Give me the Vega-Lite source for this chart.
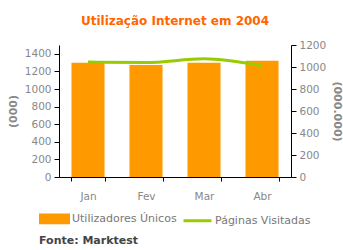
{
  "$schema": "https://vega.github.io/schema/vega-lite/v6.json",
  "width": 232,
  "height": 132,
  "padding": {"left": 7, "top": 15, "right": 4, "bottom": 2},
  "title": {"text": "Utilização Internet em 2004", "color": "#FF6600", "fontSize": 12, "font": "DejaVu Sans", "fontWeight": "bold", "offset": 12},
  "config": {
    "view": {"stroke": null},
    "font": "DejaVu Sans",
    "axis": {"labelColor": "#888888", "labelFontSize": 10.5, "titleColor": "#888888", "titleFontSize": 11, "titleFontWeight": "bold", "domainColor": "#000000", "tickColor": "#000000", "grid": false, "labelFont": "DejaVu Sans", "titleFont": "DejaVu Sans"},
    "legend": {
      "orient": "none", "legendX": -20, "legendY": 158, "direction": "horizontal",
      "titleOrient": "bottom", "titleFontSize": 11, "titleColor": "#444444", "titleFontWeight": "bold", "titlePadding": 6, "titleFont": "DejaVu Sans",
      "labelFontSize": 11, "labelColor": "#777777", "labelFont": "DejaVu Sans", "labelOffset": 2, "columnPadding": 0,
      "symbolSize": 784
    }
  },
  "data": {"values": [
    {"mes": "Jan", "utilizadores": 1297, "paginas": 1045},
    {"mes": "Fev", "utilizadores": 1274, "paginas": 1040},
    {"mes": "Mar", "utilizadores": 1297, "paginas": 1075},
    {"mes": "Abr", "utilizadores": 1320, "paginas": 1012}
  ]},
  "encoding": {
    "x": {"field": "mes", "type": "nominal", "sort": null,
      "scale": {"paddingInner": 0.43, "paddingOuter": 0.215},
      "axis": {"title": null, "labelAngle": 0, "tickBand": "extent", "tickSize": 4, "labelPadding": 10}}
  },
  "layer": [
    {
      "mark": {"type": "bar"},
      "encoding": {
        "y": {"field": "utilizadores", "type": "quantitative", "scale": {"domain": [0, 1500]},
          "axis": {"title": "(000)", "format": "d", "values": [0, 200, 400, 600, 800, 1000, 1200, 1400], "tickSize": 5, "labelPadding": 3, "titlePadding": 6}},
        "color": {"datum": "Utilizadores Únicos", "type": "nominal",
          "scale": {"domain": ["Utilizadores Únicos", "Páginas Visitadas"], "range": ["#FF9900", "#99CC00"]},
          "legend": {
            "title": "Fonte: Marktest",
            "encoding": {"symbols": {
              "shape": {"condition": {"test": "datum.value === 'Utilizadores Únicos'", "value": "M-1,-0.27H1V0.27H-1Z"}, "value": "M-1,0H1"},
              "fill": {"condition": {"test": "datum.value === 'Utilizadores Únicos'", "value": "#FF9900"}, "value": "transparent"},
              "stroke": {"condition": {"test": "datum.value === 'Utilizadores Únicos'", "value": "transparent"}, "value": "#99CC00"},
              "strokeWidth": {"value": 3},
              "opacity": {"value": 1}
            }}
          }}
      }
    },
    {
      "mark": {"type": "line", "strokeWidth": 3, "interpolate": "monotone"},
      "encoding": {
        "y": {"field": "paginas", "type": "quantitative", "scale": {"domain": [0, 1200]},
          "axis": {"title": "(000.000)", "format": "d", "orient": "right", "values": [0, 200, 400, 600, 800, 1000, 1200], "tickSize": 5, "labelPadding": 3, "titlePadding": 6}},
        "color": {"datum": "Páginas Visitadas", "type": "nominal",
          "legend": {
            "title": "Fonte: Marktest",
            "encoding": {"symbols": {
              "shape": {"condition": {"test": "datum.value === 'Utilizadores Únicos'", "value": "M-1,-0.27H1V0.27H-1Z"}, "value": "M-1,0H1"},
              "fill": {"condition": {"test": "datum.value === 'Utilizadores Únicos'", "value": "#FF9900"}, "value": "transparent"},
              "stroke": {"condition": {"test": "datum.value === 'Utilizadores Únicos'", "value": "transparent"}, "value": "#99CC00"},
              "strokeWidth": {"value": 3},
              "opacity": {"value": 1}
            }}
          }}
      }
    }
  ],
  "resolve": {"scale": {"y": "independent"}}
}
